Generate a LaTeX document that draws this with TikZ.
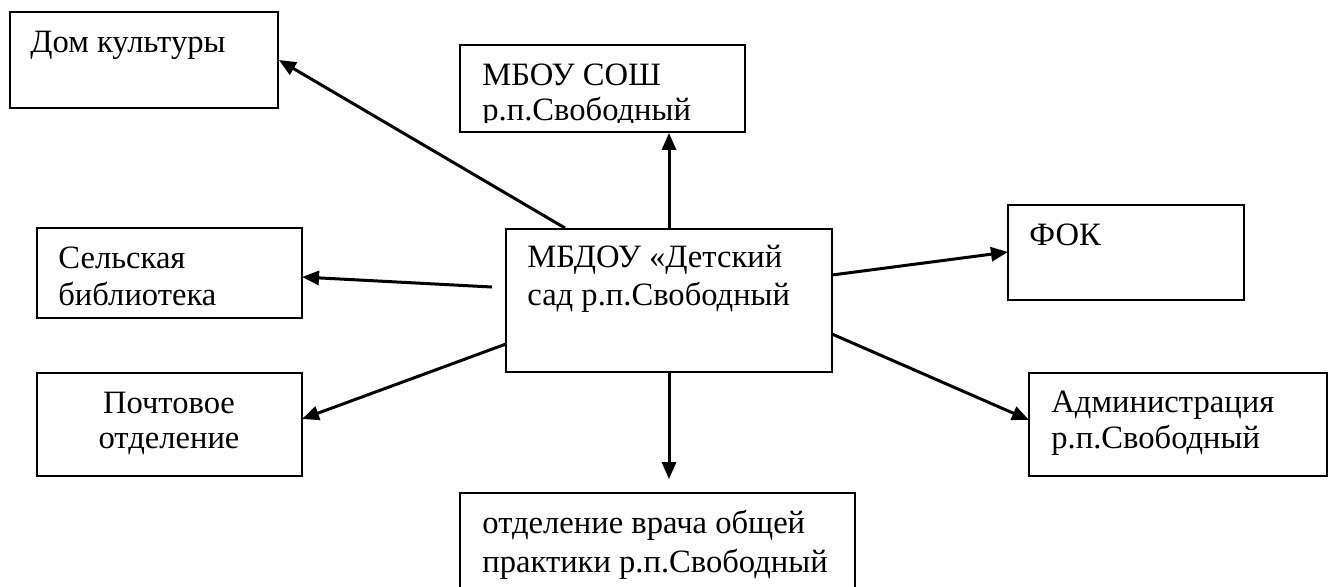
\documentclass[tikz,border=0pt]{standalone}
\usepackage{fontspec}
\setmainfont{Liberation Serif}
\usetikzlibrary{fit,arrows.meta}
\begin{document}
\begin{tikzpicture}[x=0.5pt,y=-0.5pt,
  box/.style={draw, line width=0.9pt, inner sep=0pt},
  lbl/.style={inner sep=0pt, anchor=base west, font=\fontsize{16.3}{18.5}\selectfont},
  clbl/.style={lbl, anchor=base},
  arr/.style={line width=1.5pt, -{Triangle[length=8.5pt,width=7pt]}}]
\useasboundingbox (0,0) rectangle (1329,586);
\fill[white] (0,0) rectangle (1329,586);
% boxes
\node[box, fit={(10,12) (278,108)}] (dk) {};
\node[box, fit={(460,45) (745,132)}] (sosh) {};
\node[box, fit={(506,229) (832,372)}] (c) {};
\node[box, fit={(37,228) (302,318)}] (sb) {};
\node[box, fit={(37,373) (302,476)}] (po) {};
\node[box, fit={(1008,205) (1244,300)}] (fok) {};
\node[box, fit={(1029,373) (1327,476)}] (adm) {};
\node[box, fit={(460,493) (855,620)}] (vr) {};
% texts
\node[lbl] (dkt) at (30,52) {Дом культуры};
\node[lbl] (sosht1) at (482,85) {МБОУ СОШ};
\begin{scope}
\clip (455,40) rectangle (750,122);
\node[lbl] (sosht2) at (482,120) {р.п.Свободный};
\end{scope}
\node[lbl] (ct1) at (527,267) {МБДОУ «Детский};
\node[lbl] (ct2) at (527,305) {сад р.п.Свободный};
\node[lbl] (sbt1) at (58,268) {Сельская};
\node[lbl] (sbt2) at (58,305) {библиотека};
\node[clbl] (pot1) at (169,413) {Почтовое};
\node[clbl] (pot2) at (169,448) {отделение};
\node[lbl] (fokt) at (1029,245) {ФОК};
\node[lbl] (admt1) at (1051,412) {Администрация};
\node[lbl] (admt2) at (1051,448) {р.п.Свободный};
\node[lbl] (vrt1) at (482,533) {отделение врача общей};
\node[lbl] (vrt2) at (482,572) {практики р.п.Свободный};
% connector start points
\coordinate (s1) at (565,228);
\coordinate (s2) at (492,287);
\coordinate (s3) at (506,344);
\coordinate (s4) at (832,275);
\coordinate (s5) at (832,334);
\coordinate (t1) at (dk.east);
\coordinate (t2) at (302,277);
\coordinate (t3) at (302,419);
\coordinate (t4) at (1008,252);
\coordinate (t5) at (1029,420);
% connectors
\draw[arr] (s1) -- (t1);
\draw[arr] (c.north) -- (c.north |- sosh.south);
\draw[arr, shorten >=6.5pt] (c.south) -- (c.south |- vr.north);
\draw[arr] (s2) -- (t2);
\draw[arr] (s3) -- (t3);
\draw[arr] (s4) -- (t4);
\draw[arr] (s5) -- (t5);
\end{tikzpicture}
\end{document}
